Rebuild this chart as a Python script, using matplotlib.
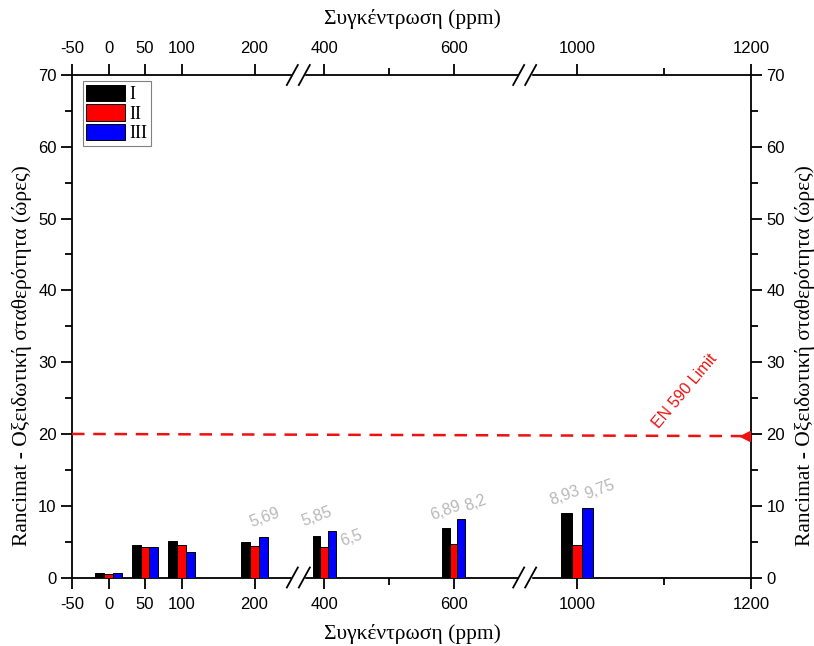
import numpy as np
import matplotlib
matplotlib.use("Agg")
import matplotlib.pyplot as plt
from matplotlib.scale import FuncScale
from matplotlib.patches import Rectangle

# ---- data ----
concentrations = [0, 50, 100, 200, 400, 600, 1000]
series_names = ["I", "II", "III"]
values_I = [0.6, 4.5, 5.05, 4.9, 5.85, 6.89, 8.93]
values_II = [0.5, 4.2, 4.5, 4.4, 4.25, 4.68, 4.5]
values_III = [0.6, 4.2, 3.56, 5.69, 6.5, 8.2, 9.75]
xtick_values = [-50, 0, 50, 100, 200, 400, 600, 1000, 1200]
xminor_values = [500, 1100]
limit_value = 20
limit_label = "EN 590 Limit"
# annotated values: (series index, group index, text)
annotations = [(2, 3, "5,69"), (0, 4, "5,85"), (2, 4, "6,5"),
               (0, 5, "6,89"), (2, 5, "8,2"), (0, 6, "8,93"), (2, 6, "9,75")]
xlabel = "Συγκέντρωση (ppm)"
ylabel = "Rancimat - Οξειδωτική σταθερότητα (ώρες)"

# ---- broken axis scale ----
seg_vals = [-50, 260, 360, 710, 940, 1200]
seg_frac = [0, 1/3, 1/3, 2/3, 2/3, 1]
seg_frac_inv = [0, 1/3, 1/3 + 1e-9, 2/3, 2/3 + 1e-9, 1]

def fwd(x):
    return np.interp(np.asarray(x, dtype=float), seg_vals, seg_frac)

def inv(y):
    return np.interp(np.asarray(y, dtype=float), seg_frac_inv, seg_vals)

W, H = 814, 646
fig = plt.figure(figsize=(W / 100, H / 100), dpi=100)
ax_l, ax_r, ax_t, ax_b = 72, 751, 75, 577.5
ax = fig.add_axes([ax_l / W, 1 - ax_b / H, (ax_r - ax_l) / W, (ax_b - ax_t) / H])
ax.set_xscale(FuncScale(ax, (fwd, inv)))
ax.set_xlim(-50, 1200)
ax.set_ylim(0, 70)

sans = "Liberation Sans"
serif = "Liberation Serif"
red = "#ee1111"

bw = 12
colors = ["black", "red", "blue"]
all_vals = [values_I, values_II, values_III]
x = np.array(concentrations, dtype=float)
for i, (vals, c, name) in enumerate(zip(all_vals, colors, series_names)):
    ax.bar(x + (i - 1) * bw, vals, width=bw, color=c, edgecolor="black",
           linewidth=0.7, label=name, zorder=3)

# value labels
offsets = {"5,69": (1, 19), "5,85": (0, 18.5), "6,5": (19, -7), "6,89": (0, 17),
           "8,2": (14, 15.5), "8,93": (-2, 18), "9,75": (12, 17.5)}
for si, gi, txt in annotations:
    xv = concentrations[gi] + (si - 1) * bw
    yv = all_vals[si][gi]
    ax.annotate(txt, (xv, yv), xytext=offsets[txt], textcoords="offset pixels",
                ha="center", va="center", rotation=20, color="#b8b8b8",
                fontsize=11.5, family=sans, zorder=4)

# limit line
ax.plot([-50, 1190], [limit_value, limit_value - 0.3], color=red, lw=1.8,
        dashes=(5, 3.5), zorder=4)
ax.plot([1193], [limit_value - 0.3], marker="<", color=red, ms=7,
        clip_on=False, zorder=5)
ax.text((685 - ax_l) / (ax_r - ax_l), (ax_b - 391) / (ax_b - ax_t), limit_label,
        transform=ax.transAxes, rotation=50, color=red, fontsize=11.5,
        family=sans, ha="center", va="center")

# ticks
ax.set_xticks(xtick_values)
ax.set_xticklabels([str(v) for v in xtick_values])
ax.set_xticks(xminor_values, minor=True)
ax.set_yticks(np.arange(0, 71, 10))
ax.set_yticks(np.arange(5, 70, 10), minor=True)
ax.tick_params(which="both", direction="out", top=True, right=True,
               labeltop=True, labelright=True, width=1.3, labelsize=12)
ax.tick_params(which="major", length=8)
ax.tick_params(which="minor", length=5)
ax.tick_params(axis="x", which="major", pad=6)
ax.tick_params(axis="y", which="major", pad=3)
for lab in ax.get_xticklabels() + ax.get_yticklabels():
    lab.set_family(sans)
for s in ax.spines.values():
    s.set_linewidth(1.3)

# axis labels
fs_lab = 15.5
fig.text(412 / W, 1 - 634 / H, xlabel, family=serif, fontsize=fs_lab,
         ha="center", va="center")
fig.text(412 / W, 1 - 19 / H, xlabel, family=serif, fontsize=fs_lab,
         ha="center", va="center")
fig.text(22 / W, 1 - 356 / H, ylabel, family=serif, fontsize=fs_lab,
         ha="center", va="center", rotation=90)
fig.text(805 / W, 1 - 356 / H, ylabel, family=serif, fontsize=fs_lab,
         ha="center", va="center", rotation=90)

# legend
leg = ax.legend(loc="upper left", bbox_to_anchor=(0.016, 0.988), borderaxespad=0,
                prop={"family": serif, "size": 13}, handlelength=2.15,
                handleheight=1.05, labelspacing=0.05, borderpad=0.2,
                handletextpad=0.25, fancybox=False, edgecolor="#808080",
                framealpha=1)
leg.get_frame().set_linewidth(0.8)

# axis breaks
pw = ax_r - ax_l
ph = ax_b - ax_t
for fx in (1 / 3, 2 / 3):
    for fy in (0.0, 1.0):
        ax.add_patch(Rectangle((fx - 6 / pw, fy - 2 / ph), 12 / pw, 4 / ph,
                               transform=ax.transAxes, color="white",
                               clip_on=False, zorder=6))
        for dx in (-6, 6):
            cx = fx + dx / pw
            ax.plot([cx - 5.5 / pw, cx + 5.5 / pw], [fy - 10 / ph, fy + 10 / ph],
                    transform=ax.transAxes, color="black", lw=1.3,
                    clip_on=False, zorder=7)

fig.savefig("out.png", dpi=100)
